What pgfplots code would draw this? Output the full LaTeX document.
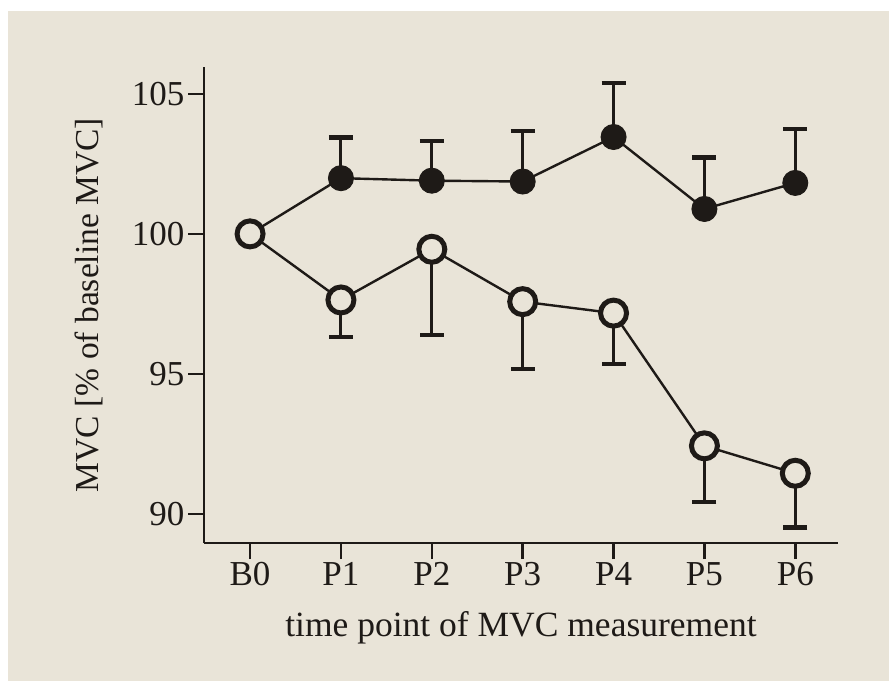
\documentclass[border=0pt]{standalone}
\usepackage{pgfplots}
\pgfplotsset{compat=1.18}
\usepackage{fontspec}
\setmainfont{Liberation Serif}
\definecolor{bgc}{RGB}{233,228,216}
\definecolor{ink}{RGB}{30,26,23}
\begin{document}
\begin{tikzpicture}
\fill[white] (0,0) rectangle (889pt,681pt);
\fill[bgc] (8pt,0) rectangle (889pt,670pt);
\begin{axis}[
  at={(204pt,138pt)}, anchor=south west,
  scale only axis, width=634pt, height=476pt,
  xmin=-0.507, xmax=6.47, ymin=88.96, ymax=105.96,
  axis x line=bottom, axis y line=left,
  axis line style={-, line width=2.6pt, color=ink},
  xtick={0,1,2,3,4,5,6},
  xticklabels={B0,P1,P2,P3,P4,P5,P6},
  ytick={90,95,100,105},
  tick align=outside, major tick length=16pt,
  tick style={line width=2.4pt, color=ink},
  ticklabel style={font=\fontsize{35}{40}\selectfont, color=ink},
  /pgf/number format/assume math mode=true,
  xlabel={time point of MVC measurement},
  ylabel={MVC [\% of baseline MVC]},
  xlabel style={font=\fontsize{35.5}{40}\selectfont, color=ink},
  ylabel style={font=\fontsize{33.5}{40}\selectfont, color=ink},
  xlabel shift=18pt, ylabel shift=22pt,
  clip=false,
]
\addplot[color=ink, line width=2.4pt, mark=*, mark size=12.5pt,
  mark options={fill=ink, draw=ink, line width=1pt},
  error bars/.cd, y dir=plus, y explicit,
  error bar style={line width=3pt, color=ink},
  error mark options={rotate=90, mark size=12pt, line width=4.5pt, color=ink}]
  table[x=x, y=y, y error=e] {
x y e
0 100 0
1 101.99 1.45
2 101.90 1.42
3 101.87 1.80
4 103.46 1.93
5 100.89 1.83
6 101.82 1.92
};
\addplot[color=ink, line width=2.4pt, mark=*, mark size=13pt,
  mark options={fill=bgc, draw=ink, line width=5pt},
  error bars/.cd, y dir=minus, y explicit,
  error bar style={line width=3pt, color=ink},
  error mark options={rotate=90, mark size=12pt, line width=4.5pt, color=ink}]
  table[x=x, y=y, y error=e] {
x y e
0 100 0
1 97.64 1.33
2 99.45 3.07
3 97.58 2.40
4 97.17 1.82
5 92.43 2.01
6 91.45 1.93
};
\end{axis}
\end{tikzpicture}
\end{document}
